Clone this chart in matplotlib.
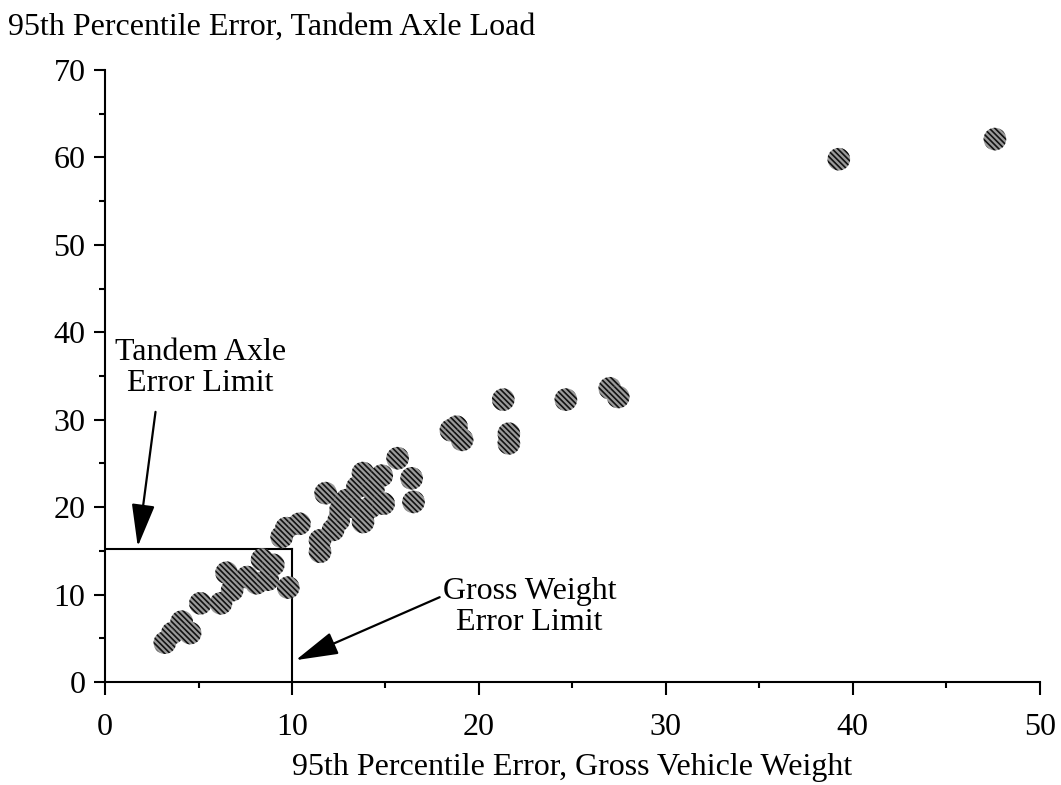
import matplotlib.pyplot as plt
from matplotlib.ticker import MultipleLocator

plt.rcParams['font.family'] = ['Liberation Serif', 'DejaVu Serif']
plt.rcParams['hatch.linewidth'] = 1.2

# 95th percentile errors per site (percent)
gvw_error = [3.2, 3.6, 4.1, 4.55, 5.1, 6.2, 6.5, 6.8, 7.6, 8.1, 8.4, 8.7, 9.0,
             9.8, 9.45, 9.7, 10.4, 11.5, 11.5, 11.8, 12.2, 12.5, 12.6, 12.9,
             13.3, 13.5, 13.8, 13.8, 14.2, 14.35, 14.8, 14.9, 15.65, 16.4,
             16.5, 18.5, 18.8, 19.1, 21.3, 21.6, 21.6, 24.65, 27.0, 27.45,
             39.25, 47.6]
tandem_error = [4.5, 5.6, 6.9, 5.6, 9.0, 9.0, 12.5, 10.5, 12.0, 11.3, 14.0,
                11.7, 13.4, 10.8, 16.6, 17.6, 18.1, 14.9, 16.2, 21.6, 17.4,
                18.5, 19.7, 20.8, 20.0, 22.3, 23.9, 18.3, 20.0, 22.0, 23.6,
                20.4, 25.6, 23.3, 20.6, 28.8, 29.2, 27.7, 32.3, 28.4, 27.3,
                32.3, 33.6, 32.6, 59.8, 62.1]

# error limits
gvw_limit = 10
tandem_limit = 15.2

fig = plt.figure(figsize=(10.61, 7.85), dpi=100)
ax = fig.add_axes([0.099, 0.1312, 0.881, 0.7796])

ax.scatter(gvw_error, tandem_error, s=265, facecolor='#9a9a9a',
           edgecolor='#111111', linewidth=0, hatch='\\\\\\\\\\\\',
           clip_on=False, zorder=3)

# limit box
ax.plot([0, gvw_limit], [tandem_limit, tandem_limit], color='black', lw=1.5,
        zorder=2)
ax.plot([gvw_limit, gvw_limit], [0, tandem_limit], color='black', lw=1.5,
        zorder=2)

arrow = dict(arrowstyle='-|>,head_length=2.2,head_width=0.6',
             mutation_scale=12, lw=1.6, color='black',
             shrinkA=0, shrinkB=0)
ax.annotate('', xy=(1.75, 15.5), xytext=(2.7, 30.9), arrowprops=arrow)
ax.text(5.1, 35.9, 'Tandem Axle\nError Limit', ha='center', va='center',
        fontsize=23, linespacing=1.1)
ax.annotate('', xy=(10.2, 2.5), xytext=(17.9, 9.7), arrowprops=arrow)
ax.text(22.7, 8.6, 'Gross Weight\nError Limit', ha='center', va='center',
        fontsize=23, linespacing=1.1)

ax.set_xlim(0, 50)
ax.set_ylim(0, 70)
ax.xaxis.set_major_locator(MultipleLocator(10))
ax.xaxis.set_minor_locator(MultipleLocator(5))
ax.yaxis.set_major_locator(MultipleLocator(10))
ax.yaxis.set_minor_locator(MultipleLocator(5))
ax.tick_params(which='major', length=8, width=1.5, labelsize=23, pad=6)
ax.tick_params(which='minor', length=4.5, width=1.5)
ax.tick_params(axis='x', which='major', length=9, pad=13)

for side in ['top', 'right']:
    ax.spines[side].set_visible(False)
for side in ['left', 'bottom']:
    ax.spines[side].set_linewidth(1.5)

ax.set_xlabel('95th Percentile Error, Gross Vehicle Weight', fontsize=23,
              labelpad=8)
fig.text(8 / 1061, 1 - 27 / 785, '95th Percentile Error, Tandem Axle Load',
         fontsize=23, ha='left', va='center')

fig.savefig('out.png', dpi=100)
